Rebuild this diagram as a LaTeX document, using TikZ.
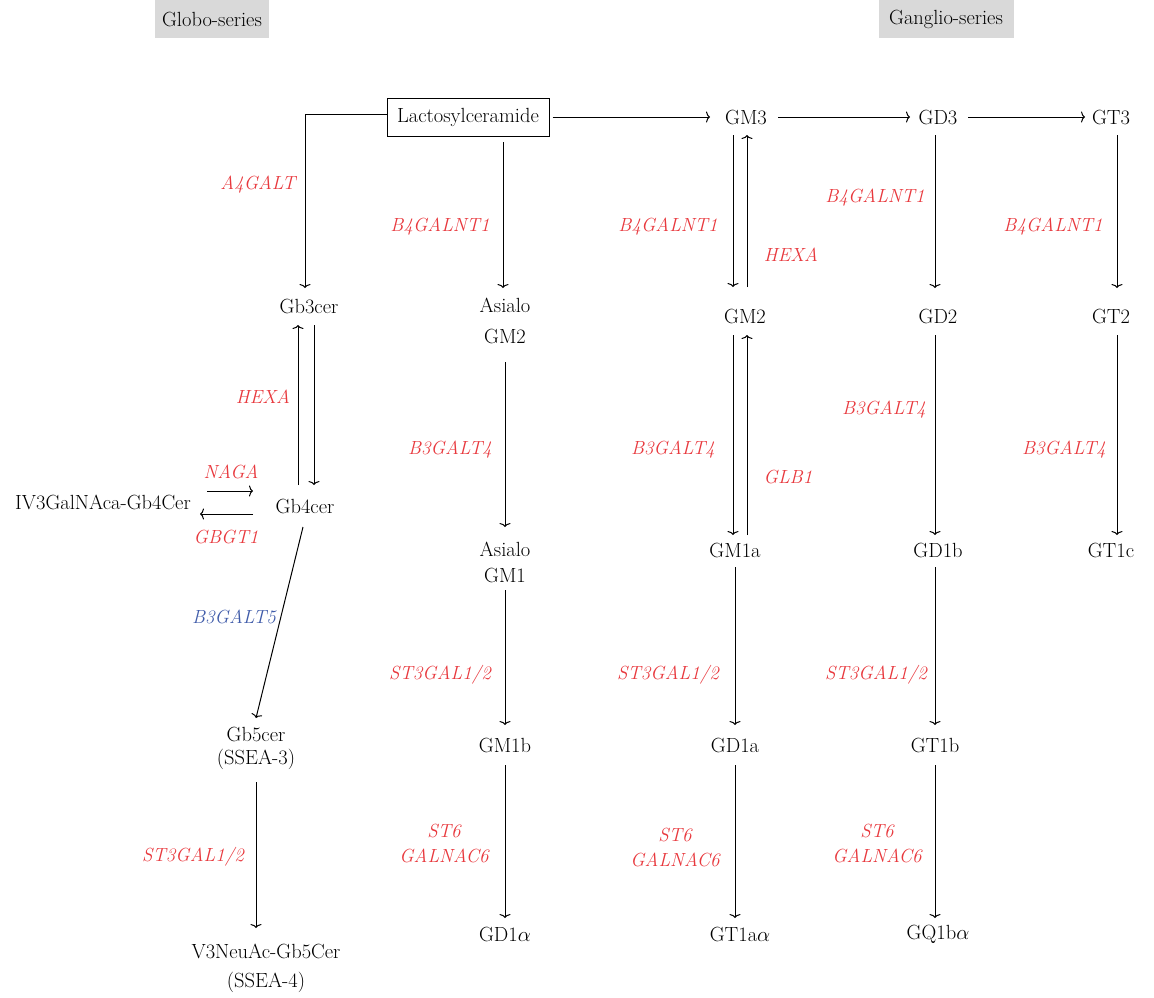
\documentclass[tikz,border=0pt]{standalone}
\usetikzlibrary{arrows.meta,calc}
\definecolor{labred}{HTML}{E8383D}
\definecolor{labblue}{HTML}{3F5BA9}
\definecolor{hdrgray}{HTML}{D9D9D9}
\begin{document}
\begin{tikzpicture}[x=1pt,y=-1pt,
  txt/.style={inner sep=0pt,align=center,font=\fontsize{20.5}{23}\selectfont},
  lab/.style={inner sep=0pt,align=center,text=labred,font=\fontsize{19}{25}\selectfont\itshape},
  blab/.style={lab,text=labblue},
  hdr/.style={fill=hdrgray,minimum height=38pt,inner sep=0pt,font=\fontsize{20.5}{23}\selectfont},
  arr/.style={line width=1pt,-{To[length=4pt,width=11pt]}},
  ln/.style={line width=1pt}]
\useasboundingbox (0,0) rectangle (1154,997);
% headers
\node[hdr,minimum width=114pt] (globo) at (212,19) {Globo-series};
\node[hdr,minimum width=135pt] (ganglio) at (946,19) {Ganglio-series};
% main nodes
\node[draw,line width=1pt,minimum width=162pt,minimum height=38pt,inner sep=0pt,font=\fontsize{20.5}{23}\selectfont] (lacto) at (468,117) {Lactosylceramide};
\node[txt] (gm3) at (746,117) {GM3};
\node[txt] (gd3) at (938,117) {GD3};
\node[txt] (gt3) at (1111,117) {GT3};
\node[txt] (gb3) at (309,306) {Gb3cer};
\node[txt] (agm2) at (505,321) {Asialo\\[8pt]GM2};
\node[txt] (gm2) at (745,316) {GM2};
\node[txt] (gd2) at (938,316) {GD2};
\node[txt] (gt2) at (1111,316) {GT2};
\node[txt] (gb4) at (305,506) {Gb4cer};
\node[txt] (iv3) at (103,502) {IV3GalNAca-Gb4Cer};
\node[txt] (agm1) at (505,562) {Asialo\\[3pt]GM1};
\node[txt] (gm1a) at (735,550) {GM1a};
\node[txt] (gd1b) at (938,550) {GD1b};
\node[txt] (gt1c) at (1111,550) {GT1c};
\node[txt] (gb5) at (256,748) {Gb5cer\\(SSEA-3)};
\node[txt] (gm1b) at (505,745) {GM1b};
\node[txt] (gd1a) at (735,745) {GD1a};
\node[txt] (gt1b) at (935,745) {GT1b};
\node[txt] (gd1al) at (505,934) {GD1$\alpha$};
\node[txt] (gt1aa) at (740,934) {GT1a$\alpha$};
\node[txt] (gq1ba) at (938,934) {GQ1b$\alpha$};
\node[txt] (v3) at (266,968) {V3NeuAc-Gb5Cer\\[6pt](SSEA-4)};
% labels
\node[lab] (l1) at (258,185) {A4GALT};
\node[lab] (l2) at (440,227) {B4GALNT1};
\node[lab] (l3) at (668,227) {B4GALNT1};
\node[lab] (l4) at (791,255) {HEXA};
\node[lab] (l5) at (875,198) {B4GALNT1};
\node[lab] (l6) at (1053,227) {B4GALNT1};
\node[lab] (l7) at (263,397) {HEXA};
\node[lab] (l8) at (450,450) {B3GALT4};
\node[lab] (l9) at (673,450) {B3GALT4};
\node[lab] (l10) at (788,477) {GLB1};
\node[lab] (l11) at (884,410) {B3GALT4};
\node[lab] (l12) at (1064,450) {B3GALT4};
\node[lab] (l13) at (231,472) {NAGA};
\node[lab] (l14) at (226,537) {GBGT1};
\node[blab] (l15) at (234,617) {B3GALT5};
\node[lab] (l16) at (440,675) {ST3GAL1/2};
\node[lab] (l17) at (668,675) {ST3GAL1/2};
\node[lab] (l18) at (876,675) {ST3GAL1/2};
\node[lab] (l19) at (444,843) {ST6\\GALNAC6};
\node[lab] (l20) at (675,847) {ST6\\GALNAC6};
\node[lab] (l21) at (877,843) {ST6\\GALNAC6};
\node[lab] (l22) at (193,857) {ST3GAL1/2};
% top row arrows
\draw[arr] ($(lacto.east)+(3,0)$) -- ($(gm3)+(-36,0)$);
\draw[arr] ($(gm3)+(32,0)$) -- ($(gd3)+(-28,0)$);
\draw[arr] ($(gd3)+(30,0)$) -- ($(gt3)+(-26,0)$);
\draw[arr] ($(lacto.west)+(0,-3)$) -| ($(gb3)+(-4,-18)$);
% asialo column
\draw[arr] ($(lacto)+(35,25)$) -- ($(agm2)+(-2,-33)$);
\draw[arr] ($(agm2)+(0,41)$) -- ($(agm1)+(0,-35)$);
\draw[arr] ($(agm1)+(0,28)$) -- ($(gm1b)+(0,-20)$);
\draw[arr] ($(gm1b)+(0,20)$) -- ($(gd1al)+(0,-16)$);
% GM column
\draw[arr] ($(gm3)+(-13,18)$) -- ($(gm2)+(-12,-29)$);
\draw[arr] ($(gm2)+(2,-29)$) -- ($(gm3)+(1,18)$);
\draw[arr] ($(gm2)+(-12,19)$) -- ($(gm1a)+(-2,-15)$);
\draw[arr] ($(gm1a)+(12,-15)$) -- ($(gm2)+(2,19)$);
\draw[arr] ($(gm1a)+(0,17)$) -- ($(gd1a)+(0,-20)$);
\draw[arr] ($(gd1a)+(0,20)$) -- ($(gt1aa)+(-5,-16)$);
% GD column
\draw[arr] ($(gd3)+(-3,18)$) -- ($(gd2)+(-3,-28)$);
\draw[arr] ($(gd2)+(-3,19)$) -- ($(gd1b)+(-3,-15)$);
\draw[arr] ($(gd1b)+(-3,17)$) -- ($(gt1b)+(0,-20)$);
\draw[arr] ($(gt1b)+(0,20)$) -- ($(gq1ba)+(-3,-16)$);
% GT column
\draw[arr] ($(gt3)+(6,18)$) -- ($(gt2)+(6,-28)$);
\draw[arr] ($(gt2)+(6,19)$) -- ($(gt1c)+(6,-15)$);
% globo
\draw[arr] ($(gb4)+(-7,-21)$) -- ($(gb3)+(-11,19)$);
\draw[arr] ($(gb3)+(5,19)$) -- ($(gb4)+(9,-21)$);
\draw[arr] ($(iv3)+(104,-11)$) -- ($(gb4)+(-52,-15)$);
\draw[arr] ($(gb4)+(-52,8)$) -- ($(iv3)+(97,12)$);
\draw[arr] ($(gb4)+(-2,21)$) -- ($(gb5)+(0,-30)$);
\draw[arr] ($(gb5)+(0,34)$) -- ($(v3)+(-10,-40)$);
\end{tikzpicture}
\end{document}
